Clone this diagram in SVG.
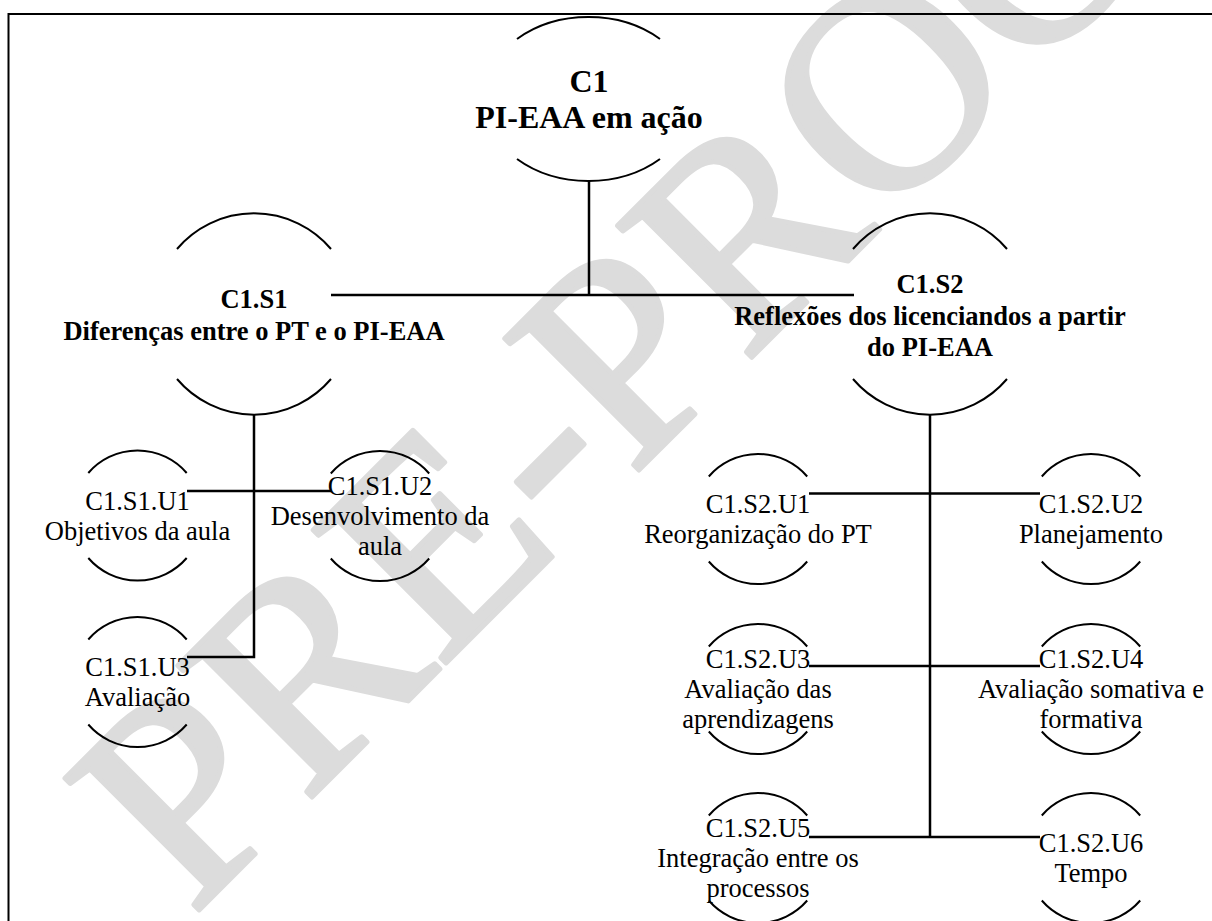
<svg xmlns="http://www.w3.org/2000/svg" width="1212" height="921" viewBox="0 0 1212 921">
<style>
.arc{fill:none;stroke:#000;stroke-width:2}
.con{fill:none;stroke:#000;stroke-width:2.5}
.t{font-family:"Liberation Serif","Times New Roman",serif;font-size:26.5px;fill:#000;text-anchor:middle}
.b{font-weight:bold}
.wm{font-family:"Liberation Serif","Times New Roman",serif;font-size:287px;fill:#dcdcdc;stroke:#dcdcdc;stroke-width:5;stroke-linejoin:round}
</style>
<rect width="1212" height="921" fill="#fff"/>
<text class="wm" x="192" y="917" transform="rotate(-45 192 917)">PRE-PROOF</text>
<path d="M8.5 930 V14 H1220" fill="none" stroke="#000" stroke-width="2"/>
<g id="connectors">
<path class="con" d="M589 181 V295"/>
<path class="con" d="M331 295 H854"/>
<path class="con" d="M254 415 V657 H187"/>
<path class="con" d="M187 491 H331"/>
<path class="con" d="M930 415 V837"/>
<path class="con" d="M809 493.5 H1040"/>
<path class="con" d="M809 666 H1040"/>
<path class="con" d="M809 837 H1040"/>
</g>
<g id="node-c1">
<path class="arc" d="M517 39 A105 82 0 0 1 660 39"/>
<path class="arc" d="M517 159 A105 82 0 0 0 660 159"/>
<text class="t b" x="589" y="92" style="font-size:32px">C1</text>
<text class="t b" x="589" y="128" style="font-size:32px">PI-EAA em ação</text>
</g>
<g id="node-c1s1">
<path class="arc" d="M177 249 A101 101 0 0 1 331 249"/>
<path class="arc" d="M177 379 A101 101 0 0 0 331 379"/>
<text class="t b" x="254" y="308">C1.S1</text>
<text class="t b" x="254" y="340">Diferenças entre o PT e o PI-EAA</text>
</g>
<g id="node-c1s2">
<path class="arc" d="M853 249 A101 101 0 0 1 1007 249"/>
<path class="arc" d="M853 379 A101 101 0 0 0 1007 379"/>
<text class="t b" x="930" y="293">C1.S2</text>
<text class="t b" x="930" y="324.5">Reflexões dos licenciandos a partir</text>
<text class="t b" x="930" y="356">do PI-EAA</text>
</g>
<g id="node-c1s1u1">
<path class="arc" d="M88.3 473 A65 65 0 0 1 186.7 473"/>
<path class="arc" d="M88.3 558 A65 65 0 0 0 186.7 558"/>
<text class="t" x="137.5" y="509.5">C1.S1.U1</text>
<text class="t" x="137.5" y="539.5">Objetivos da aula</text>
</g>
<g id="node-c1s1u2">
<path class="arc" d="M330.8 473.5 A65 65 0 0 1 429.2 473.5"/>
<path class="arc" d="M330.8 558.5 A65 65 0 0 0 429.2 558.5"/>
<text class="t" x="380" y="495">C1.S1.U2</text>
<text class="t" x="380" y="525">Desenvolvimento da</text>
<text class="t" x="380" y="555">aula</text>
</g>
<g id="node-c1s1u3">
<path class="arc" d="M88.3 639.5 A65 65 0 0 1 186.7 639.5"/>
<path class="arc" d="M88.3 724.5 A65 65 0 0 0 186.7 724.5"/>
<text class="t" x="137.5" y="676">C1.S1.U3</text>
<text class="t" x="137.5" y="706">Avaliação</text>
</g>
<g id="node-c1s2u1">
<path class="arc" d="M708.8 476.5 A65 65 0 0 1 807.2 476.5"/>
<path class="arc" d="M708.8 561.5 A65 65 0 0 0 807.2 561.5"/>
<text class="t" x="758" y="513">C1.S2.U1</text>
<text class="t" x="758" y="543">Reorganização do PT</text>
</g>
<g id="node-c1s2u2">
<path class="arc" d="M1041.8 476.5 A65 65 0 0 1 1140.2 476.5"/>
<path class="arc" d="M1041.8 561.5 A65 65 0 0 0 1140.2 561.5"/>
<text class="t" x="1091" y="513">C1.S2.U2</text>
<text class="t" x="1091" y="543">Planejamento</text>
</g>
<g id="node-c1s2u3">
<path class="arc" d="M708.8 646.5 A65 65 0 0 1 807.2 646.5"/>
<path class="arc" d="M708.8 731.5 A65 65 0 0 0 807.2 731.5"/>
<text class="t" x="758" y="668">C1.S2.U3</text>
<text class="t" x="758" y="698">Avaliação das</text>
<text class="t" x="758" y="728">aprendizagens</text>
</g>
<g id="node-c1s2u4">
<path class="arc" d="M1041.8 646.5 A65 65 0 0 1 1140.2 646.5"/>
<path class="arc" d="M1041.8 731.5 A65 65 0 0 0 1140.2 731.5"/>
<text class="t" x="1091" y="668">C1.S2.U4</text>
<text class="t" x="1091" y="698">Avaliação somativa e</text>
<text class="t" x="1091" y="728">formativa</text>
</g>
<g id="node-c1s2u5">
<path class="arc" d="M708.8 815.5 A65 65 0 0 1 807.2 815.5"/>
<path class="arc" d="M708.8 900.5 A65 65 0 0 0 807.2 900.5"/>
<text class="t" x="758" y="837">C1.S2.U5</text>
<text class="t" x="758" y="867">Integração entre os</text>
<text class="t" x="758" y="897">processos</text>
</g>
<g id="node-c1s2u6">
<path class="arc" d="M1041.8 815.5 A65 65 0 0 1 1140.2 815.5"/>
<path class="arc" d="M1041.8 900.5 A65 65 0 0 0 1140.2 900.5"/>
<text class="t" x="1091" y="852">C1.S2.U6</text>
<text class="t" x="1091" y="882">Tempo</text>
</g>
</svg>
